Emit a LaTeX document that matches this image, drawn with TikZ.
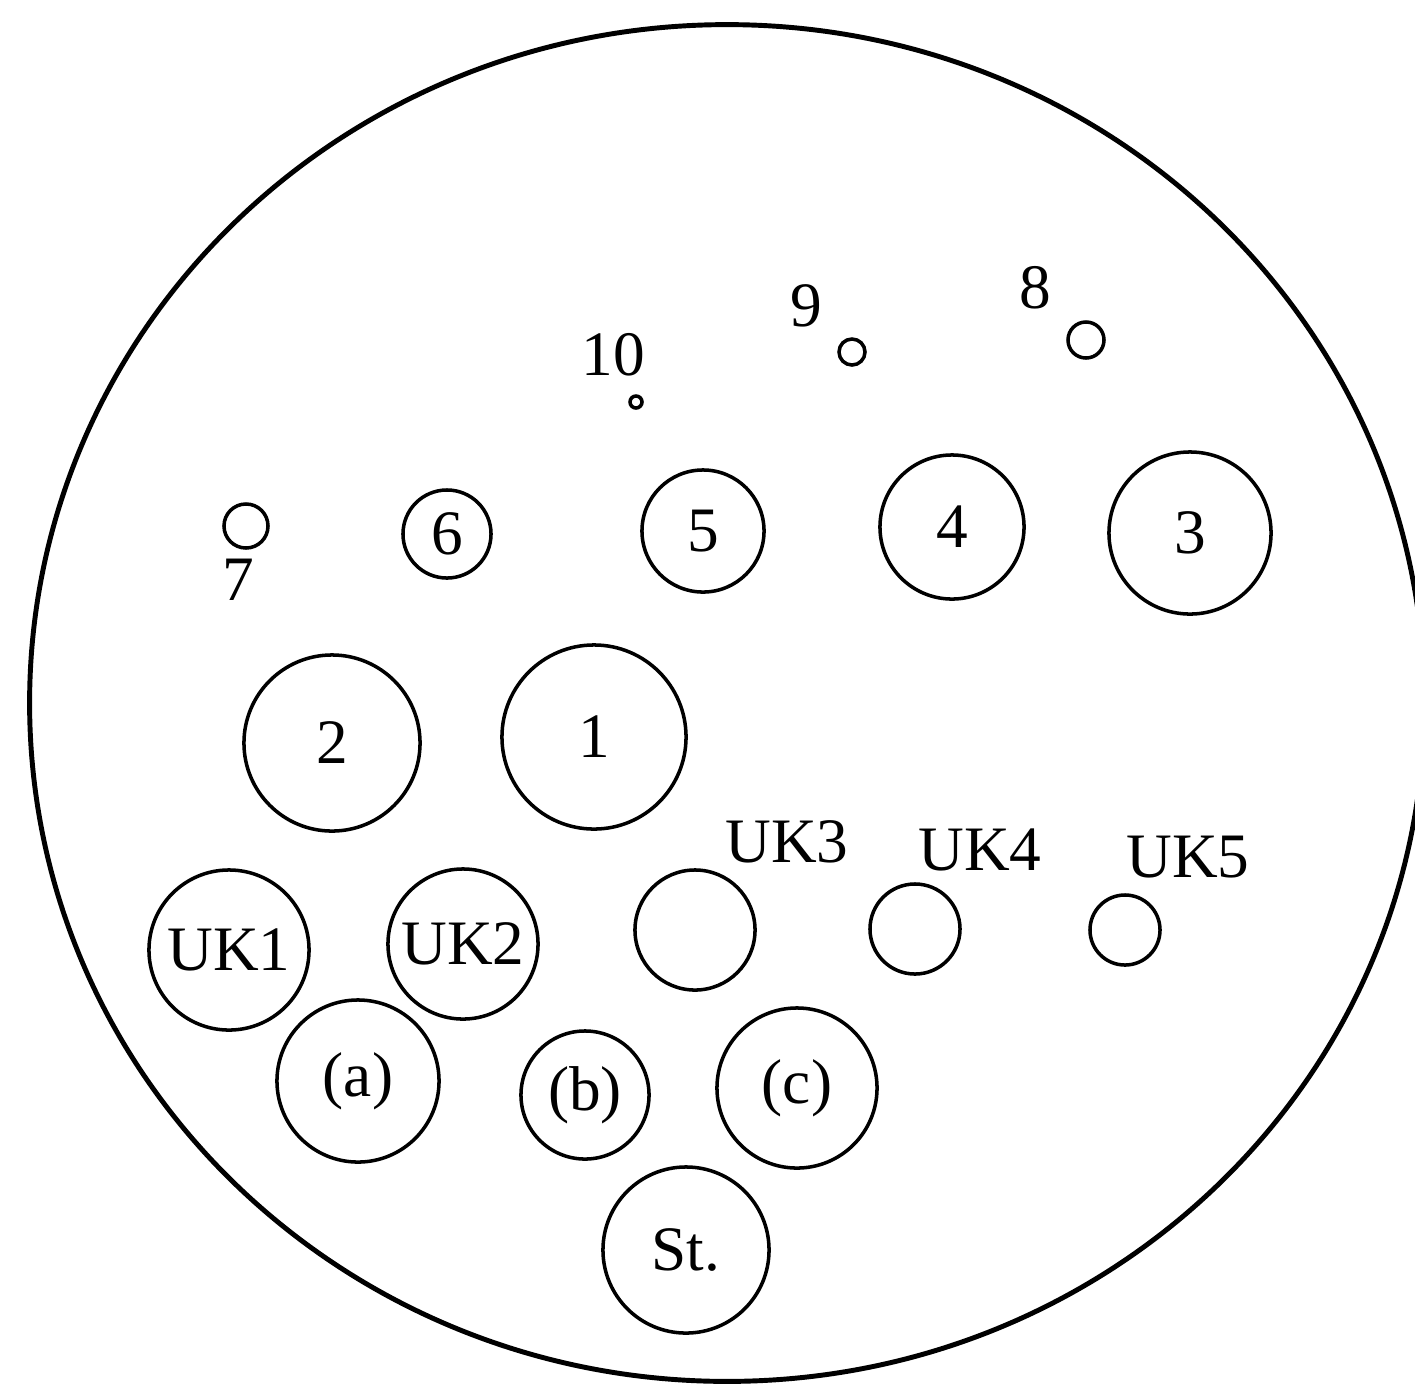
\documentclass[tikz,border=0pt]{standalone}
\usepackage{fontspec}
\setmainfont{Liberation Serif}
\usetikzlibrary{positioning}

\begin{document}
\begin{tikzpicture}[x=0.01cm,y=-0.01cm,
    hole/.style={circle,draw,line width=1pt,inner sep=0pt,minimum size=#1},
    tag/.style={inner sep=0pt},
    every node/.style={font=\fontsize{18}{20}\selectfont}]
  \useasboundingbox (0,0) rectangle (1415,1384);
  % outer disc
  \draw[line width=1.4pt] (727,703) ellipse [x radius=6.97cm, y radius=6.78cm];
  % small holes at the top
  \node[hole=0.12cm] (h10) at (636,402) {};
  \node[tag] (t10) at (613,355) {10};
  \node[hole=0.26cm] (h9) at (852,352) {};
  \node[tag] (t9) at (806,306) {9};
  \node[hole=0.36cm] (h8) at (1086,340) {};
  \node[tag] (t8) at (1035,288) {8};
  % row 7..3
  \node[hole=0.44cm] (h7) at (246,526) {};
  \node[tag] (t7) at (238,580) {7};
  \node[hole=0.88cm] (h6) at (447,534) {6};
  \node[hole=1.22cm] (h5) at (703,531) {5};
  \node[hole=1.44cm] (h4) at (952,527) {4};
  \node[hole=1.62cm] (h3) at (1190,533) {3};
  % row 2, 1
  \node[hole=1.76cm] (h2) at (332,743) {2};
  \node[hole=1.84cm] (h1) at (594,737) {1};
  % UK row
  \node[hole=1.60cm] (uk1) at (229,950) {UK1};
  \node[hole=1.50cm] (uk2) at (463,944) {UK2};
  \node[hole=1.20cm] (uk3) at (695,930) {};
  \node[tag] (tuk3) at (787,842) {UK3};
  \node[hole=0.90cm] (uk4) at (915,929) {};
  \node[tag] (tuk4) at (980,850) {UK4};
  \node[hole=0.70cm] (uk5) at (1125,930) {};
  \node[tag] (tuk5) at (1188,857) {UK5};
  % (a) (b) (c) and St.
  \node[hole=1.62cm] (ha) at (358,1081) {(a)};
  \node[hole=1.28cm] (hb) at (585,1095) {(b)};
  \node[hole=1.60cm] (hc) at (797,1088) {(c)};
  \node[hole=1.66cm] (st) at (686,1250) {St.};
\end{tikzpicture}
\end{document}
